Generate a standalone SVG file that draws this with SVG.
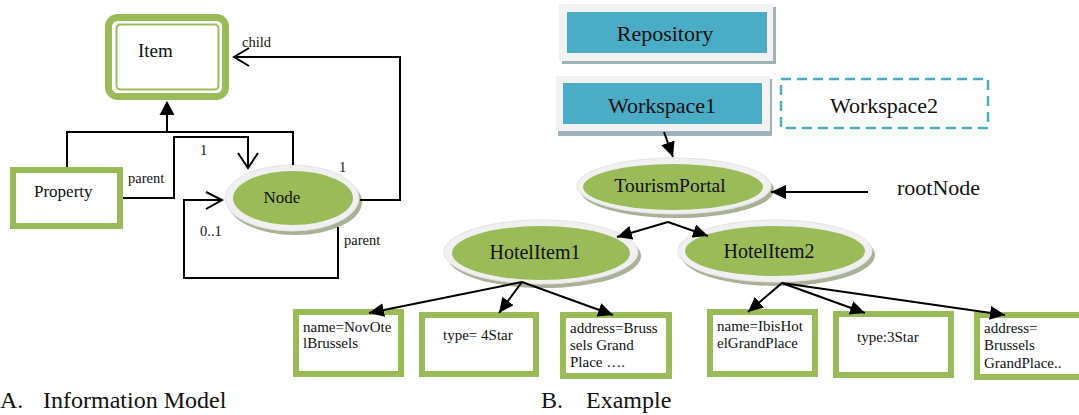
<svg xmlns="http://www.w3.org/2000/svg" width="1079" height="415" viewBox="0 0 1079 415">
<defs>
<style>
text{font-family:"Liberation Serif","Times New Roman",serif;fill:#111}
.ln{fill:none;stroke:#000;stroke-width:2}
.gbox{fill:#fff;stroke:#9bbb59;stroke-width:6}
.shadow{fill:#a9b196}
.ring{fill:#f0f0f0;stroke:#e4e4e4;stroke-width:1}
.green{fill:#9bbb59}
.blue{fill:#4bacc6}
.grey{fill:#f2f2f2}
.bshadow{fill:#9fb2ba}
.s15{font-size:15px}
</style>
<marker id="ah" markerUnits="userSpaceOnUse" markerWidth="16" markerHeight="14" refX="15" refY="7" orient="auto">
<path d="M0,0 L15,7 L0,14 Z" fill="#000"/>
</marker>
</defs>
<rect width="1079" height="415" fill="#fff"/>

<!-- Left: information model -->
<g id="item">
<rect x="108.5" y="17.5" width="117" height="79" rx="9" fill="#fff" stroke="#9bbb59" stroke-width="7"/>
<rect x="116.5" y="24.5" width="102" height="65" rx="4" fill="none" stroke="#9bbb59" stroke-width="2"/>
<text x="138" y="57" font-size="19">Item</text>
</g>
<g id="property">
<rect class="gbox" x="13" y="170" width="107" height="56"/>
<text x="34" y="197" font-size="17">Property</text>
</g>
<g id="node">
<ellipse class="shadow" cx="295" cy="202" rx="67" ry="33"/>
<ellipse class="ring" cx="292" cy="198" rx="67" ry="33"/>
<ellipse class="green" cx="293" cy="198" rx="60" ry="27"/>
<text x="282" y="203" font-size="17" text-anchor="middle">Node</text>
</g>

<g id="connectors-left">
<polyline class="ln" points="360,200 400,200 400,57 235,57"/>
<path class="ln" d="M249,48 L234,57 L249,66"/>
<polyline class="ln" points="67,167 67,132 293,132 293,165"/>
<line class="ln" x1="167" y1="132" x2="167" y2="114"/>
<path d="M159.5,115 L174.5,115 L167,101 Z" fill="#000"/>
<polyline class="ln" points="123,198 174,198 174,137 248,137 248,167"/>
<path class="ln" d="M238,153 L248,168 L258,153"/>
<polyline class="ln" points="338,227 338,278 184,278 184,200 221,200"/>
<path class="ln" d="M206,192 L222,200 L206,209"/>
<text x="242" y="47" font-size="14.5">child</text>
<text x="128" y="183" font-size="14.5">parent</text>
<text x="200" y="155" font-size="14.5">1</text>
<text x="339" y="172" font-size="14.5">1</text>
<text x="200" y="236" font-size="14.5">0..1</text>
<text x="344" y="245" font-size="14.5">parent</text>
</g>

<!-- Right: example -->
<g id="repository">
<rect class="bshadow" x="562" y="7" width="214" height="57"/>
<rect class="grey" x="559" y="4" width="214" height="57"/>
<rect class="blue" x="567" y="12" width="200" height="41"/>
<text x="665" y="41" font-size="22" text-anchor="middle">Repository</text>
</g>
<g id="workspace1">
<rect class="bshadow" x="558" y="79" width="214" height="57"/>
<rect class="grey" x="556" y="76" width="214" height="55"/>
<rect class="blue" x="563" y="83" width="199" height="41"/>
<text x="662" y="113" font-size="22" text-anchor="middle">Workspace1</text>
</g>
<g id="workspace2">
<rect x="781" y="79" width="207" height="49" fill="#fff" stroke="#4bacc6" stroke-width="2.5" stroke-dasharray="10,6"/>
<text x="884" y="113" font-size="22" text-anchor="middle">Workspace2</text>
</g>
<g id="tourismportal">
<ellipse class="shadow" cx="677" cy="190" rx="97" ry="28"/>
<ellipse class="ring" cx="674" cy="186" rx="97" ry="28"/>
<ellipse class="green" cx="673" cy="187" rx="90" ry="23"/>
<text x="670" y="192" font-size="19.5" text-anchor="middle">TourismPortal</text>
</g>
<g id="rootnode-label">
<text x="897" y="195" font-size="22">rootNode</text>
</g>
<g id="hotelitem1">
<ellipse class="shadow" cx="544" cy="256" rx="97" ry="32"/>
<ellipse class="ring" cx="541" cy="252" rx="97" ry="32"/>
<ellipse class="green" cx="541" cy="253" rx="89" ry="27"/>
<text x="535" y="259" font-size="20" text-anchor="middle">HotelItem1</text>
</g>
<g id="hotelitem2">
<ellipse class="shadow" cx="778" cy="255" rx="97" ry="31"/>
<ellipse class="ring" cx="775" cy="251" rx="97" ry="31"/>
<ellipse class="green" cx="775" cy="251" rx="90" ry="25"/>
<text x="769" y="258" font-size="20" text-anchor="middle">HotelItem2</text>
</g>

<g id="box1">
<rect class="gbox" x="296" y="312" width="105" height="62"/>
<text class="s15" x="303" y="332">name=NovOte</text>
<text class="s15" x="303" y="348">lBrussels</text>
</g>
<g id="box2">
<rect class="gbox" x="422" y="315" width="114" height="59"/>
<text class="s15" x="443" y="340">type= 4Star</text>
</g>
<g id="box3">
<rect class="gbox" x="563" y="315" width="106" height="61"/>
<text class="s15" x="570" y="333">address=Bruss</text>
<text class="s15" x="570" y="350">sels Grand</text>
<text class="s15" x="570" y="367">Place ….</text>
</g>
<g id="box4">
<rect class="gbox" x="710" y="312" width="105" height="62"/>
<text class="s15" x="717" y="331">name=IbisHot</text>
<text class="s15" x="717" y="348">elGrandPlace</text>
</g>
<g id="box5">
<rect class="gbox" x="836" y="314" width="115" height="61"/>
<text class="s15" x="857" y="342">type:3Star</text>
</g>
<g id="box6">
<rect class="gbox" x="977" y="315" width="106" height="62"/>
<text class="s15" x="984" y="333">address=</text>
<text class="s15" x="984" y="350">Brussels</text>
<text class="s15" x="984" y="368">GrandPlace..</text>
</g>

<g id="connectors-right" stroke="#000" stroke-width="2" fill="none">
<line x1="664" y1="132" x2="673" y2="157" marker-end="url(#ah)"/>
<line x1="868" y1="192" x2="771" y2="192" marker-end="url(#ah)"/>
<line x1="668" y1="222" x2="617" y2="237" marker-end="url(#ah)"/>
<line x1="668" y1="222" x2="708" y2="236" marker-end="url(#ah)"/>
<line x1="522" y1="282" x2="369" y2="313" marker-end="url(#ah)"/>
<line x1="522" y1="282" x2="499" y2="313" marker-end="url(#ah)"/>
<line x1="522" y1="282" x2="613" y2="315" marker-end="url(#ah)"/>
<line x1="782" y1="283" x2="748" y2="312" marker-end="url(#ah)"/>
<line x1="782" y1="283" x2="865" y2="313" marker-end="url(#ah)"/>
<line x1="782" y1="283" x2="1005" y2="315" marker-end="url(#ah)"/>
</g>

<g id="captions">
<text x="0" y="408" font-size="24">A.</text>
<text x="43" y="408" font-size="24">Information Model</text>
<text x="541" y="408" font-size="24">B.</text>
<text x="586" y="408" font-size="24">Example</text>
</g>
</svg>
